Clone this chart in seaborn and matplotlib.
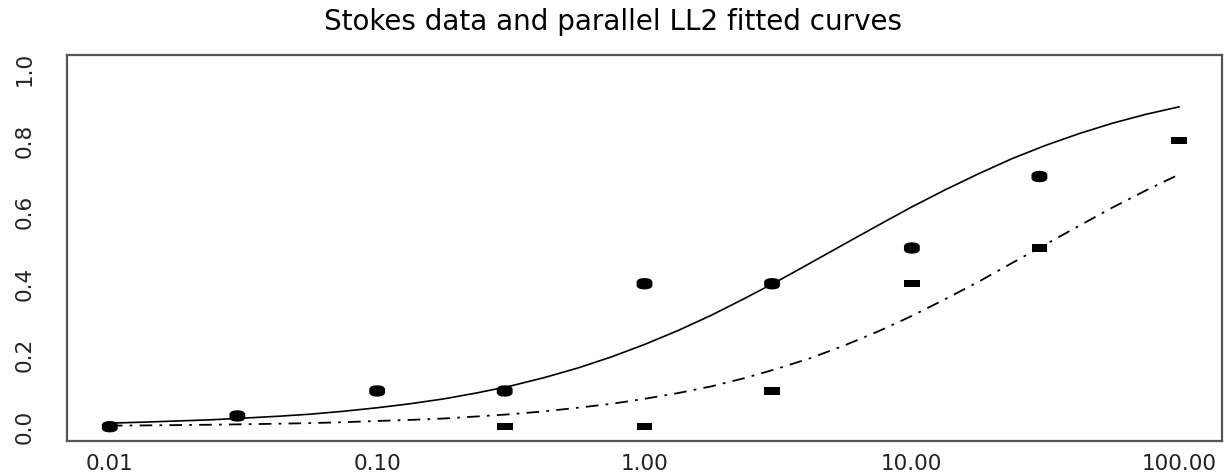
import numpy as np
import pandas as pd
import matplotlib
matplotlib.use("Agg")
import matplotlib.pyplot as plt
import seaborn as sns

# Observed proportions for the two groups
dose_a = [0.01, 0.03, 0.1, 0.3, 1, 3, 10, 30]
resp_a = [0.0, 0.03, 0.1, 0.1, 0.4, 0.4, 0.5, 0.7]
dose_b = [0.3, 1, 3, 10, 30, 100]
resp_b = [0.0, 0.0, 0.1, 0.4, 0.5, 0.8]

# Fitted LL2 curves evaluated on an eighth-decade dose grid
curve_dose = [0.01, 0.01334, 0.0178, 0.0237, 0.0316, 0.0422, 0.0562, 0.0750,
              0.1, 0.1334, 0.178, 0.237, 0.316, 0.422, 0.562, 0.750,
              1.0, 1.334, 1.78, 2.37, 3.16, 4.22, 5.62, 7.50,
              10.0, 13.34, 17.8, 23.7, 31.6, 42.2, 56.2, 75.0, 100.0]
curve_a = [0.010, 0.0127, 0.016, 0.0192, 0.024, 0.0290, 0.035, 0.0433,
           0.053, 0.0644, 0.078, 0.0948, 0.114, 0.1374, 0.164, 0.195,
           0.230, 0.269, 0.312, 0.359, 0.408, 0.460, 0.512, 0.564,
           0.615, 0.663, 0.708, 0.750, 0.787, 0.820, 0.849, 0.874, 0.895]
curve_b = [0.003, 0.0036, 0.0045, 0.0055, 0.0068, 0.0083, 0.010, 0.0126,
           0.016, 0.0190, 0.023, 0.0287, 0.035, 0.0429, 0.053, 0.0638,
           0.078, 0.094, 0.113, 0.136, 0.163, 0.193, 0.228, 0.267,
           0.310, 0.357, 0.406, 0.458, 0.510, 0.562, 0.613, 0.661, 0.706]

x_ticks = [0.01, 0.1, 1, 10, 100]
x_labels = ["0.01", "0.10", "1.00", "10.00", "100.00"]
y_ticks = [0.0, 0.2, 0.4, 0.6, 0.8, 1.0]
y_labels = ["0.0", "0.2", "0.4", "0.6", "0.8", "1.0"]

sns.set_style("white")
plt.rcParams["font.family"] = ["DejaVu Sans"]

fig = plt.figure(figsize=(12.26, 4.74), dpi=100)
ax = fig.add_axes([67 / 1226, 1 - 441 / 474, (1222 - 67) / 1226, (441 - 55) / 474])

df_a = pd.DataFrame({"dose": dose_a, "resp": resp_a})
df_b = pd.DataFrame({"dose": dose_b, "resp": resp_b})
df_ca = pd.DataFrame({"dose": curve_dose, "resp": curve_a})
df_cb = pd.DataFrame({"dose": curve_dose, "resp": curve_b})

sns.lineplot(data=df_ca, x="dose", y="resp", ax=ax, color="black", lw=1.2,
             sort=False, estimator=None)
sns.lineplot(data=df_cb, x="dose", y="resp", ax=ax, color="black", lw=1.3,
             sort=False, estimator=None, dashes=False)
ax.lines[-1].set_dashes((7, 4, 1.5, 4))

# Slightly wide filled markers: an oval dot and a flat block
oval = [(-1.0, -0.3), (-0.8, -0.55), (-0.45, -0.68), (0.0, -0.72),
        (0.45, -0.68), (0.8, -0.55), (1.0, -0.3), (1.0, 0.3), (0.8, 0.55),
        (0.45, 0.68), (0.0, 0.72), (-0.45, 0.68), (-0.8, 0.55), (-1.0, 0.3)]
rect = [(-1.0, -0.45), (1.0, -0.45), (1.0, 0.45), (-1.0, 0.45)]
sns.scatterplot(data=df_a, x="dose", y="resp", ax=ax, marker=oval, s=130,
                color="black", edgecolor="none", zorder=3)
sns.scatterplot(data=df_b, x="dose", y="resp", ax=ax, marker=rect, s=130,
                color="black", edgecolor="none", zorder=3)

ax.set_xscale("log")
ax.set_xlim(10 ** -2.16, 10 ** 2.16)
ax.set_ylim(-0.04, 1.04)
ax.set_xticks(x_ticks)
ax.set_xticklabels(x_labels)
ax.set_yticks(y_ticks)
ax.set_yticklabels(y_labels, rotation=90, va="center")
ax.minorticks_off()
ax.set_xlabel("")
ax.set_ylabel("")

for sp in ax.spines.values():
    sp.set_visible(True)
    sp.set_color("#555555")
    sp.set_linewidth(1.6)

ax.tick_params(axis="x", direction="out", length=6, width=1.2, color="#333333",
               pad=3, labelsize=15.5, labelcolor="#222222")
ax.tick_params(axis="y", direction="out", length=11, width=1.2, color="#333333",
               pad=12, labelsize=15.5, labelcolor="#222222")

fig.text(0.5, 1 - 22 / 474, "Stokes data and parallel LL2 fitted curves",
         ha="center", va="center", fontsize=20, color="black")

fig.savefig("out.png", dpi=100)
